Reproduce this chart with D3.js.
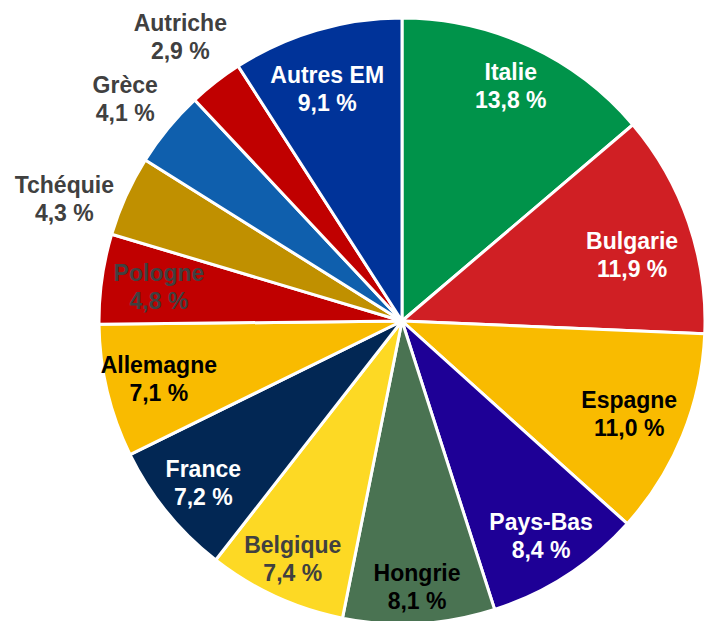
<!DOCTYPE html>
<html>
<head>
<meta charset="utf-8">
<script src="https://cdn.jsdelivr.net/npm/d3@7"></script>
<style>
  html, body { margin: 0; padding: 0; background: #fff; }
  svg { display: block; }
</style>
</head>
<body>
<svg id="chart" width="704" height="621"></svg>
<script>
// slices, clockwise from 12 o'clock
var countries = ['Italie', 'Bulgarie', 'Espagne', 'Pays-Bas', 'Hongrie', 'Belgique', 'France',
  'Allemagne', 'Pologne', 'Tchéquie', 'Grèce', 'Autriche', 'Autres EM']
var shares = [13.8, 11.9, 11.0, 8.4, 8.1, 7.4, 7.2, 7.1, 4.8, 4.3, 4.1, 2.9, 9.1]
var colors = ['#00934a', '#d01f24', '#f9bb00', '#1e0096', '#4a7352', '#fdd924', '#022754',
  '#f9bb00', '#c00000', '#c09000', '#0f5fad', '#c00000', '#003399']
var textColors = ['#fff', '#fff', '#000', '#fff', '#000', '#404040', '#fff',
  '#000', '#404040', '#404040', '#404040', '#404040', '#fff']

var cx = 402, cy = 321, radius = 303

var svg = d3.select('#chart')
var g = svg.append('g').attr('transform', 'translate(' + cx + ',' + cy + ')')

var data = countries.map(function (c, i) {
  return { name: c, value: shares[i], color: colors[i], text: textColors[i] }
})

var pie = d3.pie().sort(null).value(function (d) { return d.value })
var arcs = pie(data)

var arc = d3.arc().innerRadius(0).outerRadius(radius)

g.selectAll('path')
  .data(arcs)
  .enter().append('path')
  .attr('d', arc)
  .attr('fill', function (d) { return d.data.color })
  .attr('stroke', '#fff')
  .attr('stroke-width', 3)
  .attr('stroke-linejoin', 'round')

// label distance as fraction of radius (small ones sit outside), plus a little angle nudge
var labelR = {
  'Italie': 0.855, 'Bulgarie': 0.79, 'Espagne': 0.81, 'Pays-Bas': 0.845, 'Hongrie': 0.88,
  'Belgique': 0.865, 'France': 0.845, 'Allemagne': 0.825, 'Pologne': 0.81,
  'Tchéquie': 1.185, 'Grèce': 1.17, 'Autriche': 1.19, 'Autres EM': 0.805
}
var labelNudge = { 'Bulgarie': 3, 'Tchéquie': -4.5, 'Grèce': -0.8, 'Autres EM': -1.5 }

var fmt = function (v) { return d3.format('.1f')(v).replace('.', ',') + ' %' }

var labels = g.selectAll('text.lbl')
  .data(arcs)
  .enter().append('text')
  .attr('class', 'lbl')
  .attr('text-anchor', 'middle')
  .attr('font-family', 'Liberation Sans, Arial, sans-serif')
  .attr('font-weight', 'bold')
  .attr('font-size', 23)
  .attr('fill', function (d) { return d.data.text })
  .attr('transform', function (d) {
    var a = (d.startAngle + d.endAngle) / 2 + (labelNudge[d.data.name] || 0) * Math.PI / 180
    var r = radius * labelR[d.data.name]
    return 'translate(' + (r * Math.sin(a)) + ',' + (-r * Math.cos(a)) + ')'
  })

labels.append('tspan')
  .attr('x', 0)
  .attr('y', -6)
  .text(function (d) { return d.data.name })

labels.append('tspan')
  .attr('x', 0)
  .attr('y', 22)
  .text(function (d) { return fmt(d.data.value) })
</script>
</body>
</html>
